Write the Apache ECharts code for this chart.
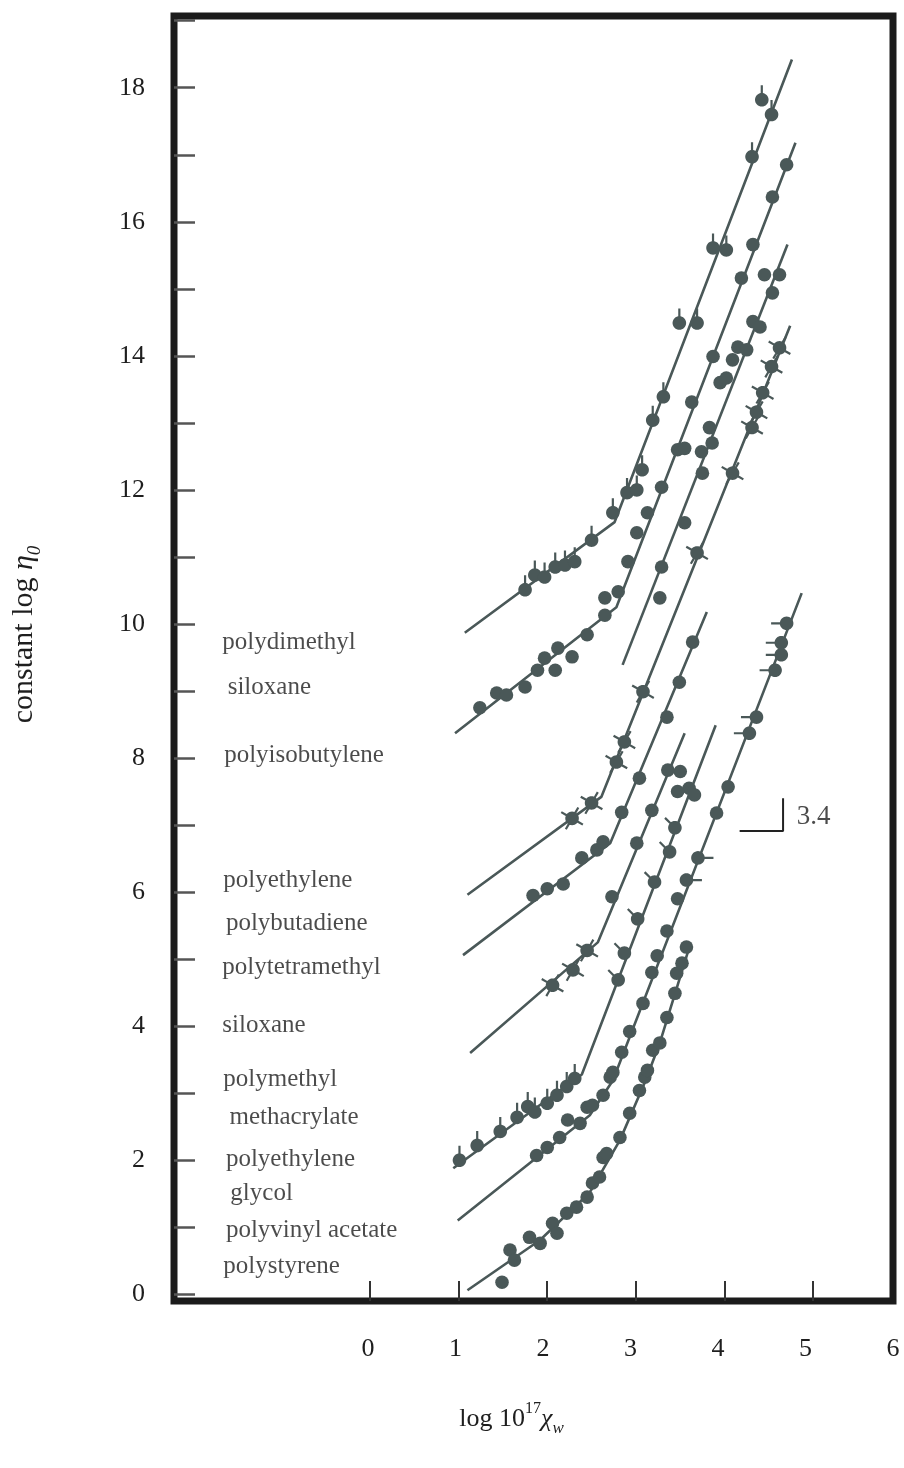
<!DOCTYPE html>
<html><head><meta charset="utf-8">
<script src="https://cdn.jsdelivr.net/npm/echarts@6/dist/echarts.min.js"></script>
<style>html,body{margin:0;padding:0;background:#fff}#c{width:904px;height:1468px}</style>
</head><body><div id="c"></div>
<script>
// ---------- axis ticks / labels ----------
const xTickValues = [0, 1, 2, 3, 4, 5];
const xLabelValues = [0, 1, 2, 3, 4, 5, 6];
const xTickLabels = ['0', '1', '2', '3', '4', '5', '6'];
const yTickValues = [0,1,2,3,4,5,6,7,8,9,10,11,12,13,14,15,16,17,18,19];
const yLabelValues = [0, 2, 4, 6, 8, 10, 12, 14, 16, 18];

// ---------- polymer names written in the plot ----------
const labelTexts = ['polydimethyl','siloxane','polyisobutylene','polyethylene','polybutadiene','polytetramethyl','siloxane','polymethyl','methacrylate','polyethylene','glycol','polyvinyl acetate','polystyrene'];
const labelX = [-1.67,-1.61,-1.65,-1.66,-1.63,-1.67,-1.67,-1.66,-1.59,-1.63,-1.58,-1.63,-1.66];
const labelY = [9.72,9.06,8.04,6.18,5.54,4.87,4.01,3.21,2.64,2.01,1.51,0.96,0.42];

// ---------- fitted lines ----------
const pdmsLine  = [[1.07,9.87],[2.76,11.52],[4.76,18.42]];
const pibLine   = [[0.96,8.37],[2.78,10.25],[4.80,17.18]];
const pvacLine  = [[2.85,9.39],[4.71,15.66]];
const peLine    = [[1.10,5.96],[2.61,7.42],[4.74,14.45]];
const pbLine    = [[1.05,5.06],[2.71,6.73],[3.80,10.18]];
const ptmpsLine = [[1.13,3.60],[2.57,5.25],[3.55,8.37]];
const pmmaLine  = [[0.94,1.88],[2.39,3.28],[3.90,8.49]];
const pegLine   = [[0.99,1.10],[2.48,2.67],[2.74,3.19],[4.87,10.46]];
const psLine    = [[1.10,0.06],[1.92,0.81],[2.48,1.52],[2.82,2.30],[3.10,3.16],[3.27,3.75],[3.61,5.21]];

// ---------- data points ----------
const pdmsPts = [[1.75,10.51],[1.86,10.73],[1.97,10.70],[2.09,10.85],[2.20,10.88],[2.31,10.93],[2.50,11.25],[2.74,11.66],[2.90,11.96],[3.01,12.00],[3.07,12.30],[3.19,13.04],[3.31,13.39],[3.49,14.49],[3.69,14.49],[3.87,15.61],[4.02,15.58],[4.31,16.97],[4.42,17.82],[4.53,17.60]];
const pibPts = [[1.24,8.75],[1.43,8.97],[1.54,8.94],[1.75,9.06],[1.89,9.31],[1.97,9.49],[2.09,9.31],[2.12,9.64],[2.28,9.51],[2.45,9.84],[2.65,10.13],[2.65,10.39],[2.80,10.48],[2.91,10.93],[3.01,11.36],[3.13,11.66],[3.29,12.04],[3.47,12.60],[3.55,12.62],[3.63,13.31],[3.87,13.99],[4.19,15.16],[4.32,15.66],[4.54,16.37],[4.70,16.85]];
const pvacPts = [[3.27,10.39],[3.29,10.85],[3.55,11.51],[3.75,12.25],[3.74,12.57],[3.86,12.70],[3.83,12.93],[3.95,13.60],[4.02,13.67],[4.09,13.94],[4.15,14.13],[4.25,14.09],[4.32,14.51],[4.40,14.43],[4.54,14.94],[4.45,15.21],[4.62,15.21]];
const pePts = [[2.28,7.10],[2.50,7.33],[2.78,7.94],[2.87,8.24],[3.08,8.99],[3.69,11.06],[4.09,12.25],[4.31,12.93],[4.36,13.16],[4.43,13.45],[4.53,13.84],[4.62,14.12]];
const pbPts = [[1.84,5.95],[2.00,6.05],[2.18,6.12],[2.39,6.51],[2.56,6.63],[2.63,6.75],[2.84,7.19],[3.04,7.70],[3.35,8.61],[3.49,9.13],[3.64,9.73]];
const ptmpsCrossPts = [[2.06,4.61],[2.29,4.84],[2.45,5.13]];
const ptmpsPts = [[2.73,5.93],[3.01,6.73],[3.18,7.22],[3.36,7.82],[3.50,7.80],[3.60,7.55],[3.47,7.50]];
const pmmaLowPts = [[1.01,2.00],[1.21,2.22],[1.47,2.43],[1.66,2.64],[1.78,2.80],[1.86,2.72],[2.00,2.85],[2.11,2.97],[2.22,3.10],[2.31,3.22]];
const pmmaHighPts = [[2.80,4.69],[2.87,5.09],[3.02,5.60],[3.21,6.15],[3.38,6.60],[3.44,6.96],[3.66,7.45]];
const pegPts = [[1.88,2.07],[2.00,2.19],[2.14,2.34],[2.23,2.60],[2.37,2.55],[2.45,2.79],[2.51,2.82],[2.63,2.97],[2.71,3.24],[2.74,3.31],[2.84,3.61],[2.93,3.92],[3.08,4.34],[3.18,4.80],[3.24,5.05],[3.35,5.42],[3.47,5.90],[3.91,7.18],[4.04,7.57]];
const pegPipRightPts = [[3.57,6.18],[3.70,6.51]];
const pegPipLeftPts = [[4.28,8.37],[4.36,8.61],[4.57,9.31],[4.64,9.54],[4.64,9.72],[4.70,10.01]];
const psPts = [[1.49,0.18],[1.58,0.66],[1.63,0.51],[1.80,0.85],[1.92,0.76],[2.06,1.06],[2.11,0.91],[2.22,1.21],[2.33,1.30],[2.45,1.45],[2.51,1.66],[2.59,1.75],[2.63,2.04],[2.67,2.10],[2.82,2.34],[2.93,2.70],[3.04,3.04],[3.10,3.24],[3.13,3.34],[3.19,3.64],[3.27,3.75],[3.35,4.13],[3.44,4.49],[3.46,4.79],[3.52,4.94],[3.57,5.18]];

// ---------- slope key ----------
const slopeKey = [[4.17,6.91],[4.66,6.91],[4.66,7.40]];
const slopeText = '3.4';
const slopeTextPos = [4.81,7.12];

// ---------- styling ----------
const FONT = 'Liberation Serif';
const INK = '#4a5858';
const TXT = '#1e1e1e';
const R = 6.8, W = 1.1;
function circ(){
  const n = 32; const p = [];
  for (let k = 0; k < n; k++){ const t = 2*Math.PI*k/n; p.push((R*Math.cos(t)).toFixed(2)+','+(R*Math.sin(t)).toFixed(2)); }
  return 'M' + p.join('L') + 'Z';
}
function stickSym(angles, L){
  let d = circ(); let minX=-R,maxX=R,minY=-R,maxY=R;
  for (const a of angles){
    const ux=Math.cos(a*Math.PI/180), uy=Math.sin(a*Math.PI/180);
    const nx=-uy, ny=ux, r0=R-0.5;
    const pts=[[r0*ux-W*nx, r0*uy-W*ny],[L*ux-W*nx, L*uy-W*ny],[L*ux+W*nx, L*uy+W*ny],[r0*ux+W*nx, r0*uy+W*ny]];
    d += 'M' + pts.map(p=>p[0].toFixed(2)+','+p[1].toFixed(2)).join('L') + 'Z';
    for (const p of pts){ minX=Math.min(minX,p[0]); maxX=Math.max(maxX,p[0]); minY=Math.min(minY,p[1]); maxY=Math.max(maxY,p[1]); }
  }
  return {symbol:'path://'+d, symbolSize:[maxX-minX, maxY-minY], symbolOffset:[(minX+maxX)/2, (minY+maxY)/2]};
}
const SYM = {
  dot: {symbol:'circle', symbolSize:2*R, symbolOffset:[0,0]},
  pipUp: stickSym([-90], 14.5),
  pipLeft: stickSym([180], 15.5),
  pipRight: stickSym([0], 15.5),
  pipDiag: stickSym([-135], 14),
  cross: stickSym([-60, 30, 120, 210], 12.5)
};
function lineS(name, data){
  return {name, type:'line', data, symbol:'none', lineStyle:{color:INK, width:2.6}, z:2, silent:true};
}
function ptS(name, data, kind){
  const s = SYM[kind];
  return {name, type:'scatter', data, symbol:s.symbol, symbolSize:s.symbolSize, symbolOffset:s.symbolOffset,
    symbolKeepAspect:false, itemStyle:{color:INK, opacity:1}, z:3, silent:true};
}

const series = [
  lineS('polydimethyl siloxane', pdmsLine), ptS('polydimethyl siloxane pts', pdmsPts, 'pipUp'),
  lineS('polyisobutylene', pibLine), ptS('polyisobutylene pts', pibPts, 'dot'),
  lineS('polyvinyl acetate', pvacLine), ptS('polyvinyl acetate pts', pvacPts, 'dot'),
  lineS('polyethylene', peLine), ptS('polyethylene pts', pePts, 'cross'),
  lineS('polybutadiene', pbLine), ptS('polybutadiene pts', pbPts, 'dot'),
  lineS('polytetramethyl siloxane', ptmpsLine), ptS('ptms cross', ptmpsCrossPts, 'cross'), ptS('ptms pts', ptmpsPts, 'dot'),
  lineS('polymethyl methacrylate', pmmaLine), ptS('pmma low', pmmaLowPts, 'pipUp'), ptS('pmma high', pmmaHighPts, 'pipDiag'),
  lineS('polyethylene glycol', pegLine), ptS('peg pts', pegPts, 'dot'), ptS('peg right', pegPipRightPts, 'pipRight'), ptS('peg left', pegPipLeftPts, 'pipLeft'),
  lineS('polystyrene', psLine), ptS('polystyrene pts', psPts, 'dot'),
  {name:'slope key', type:'line', data:slopeKey, symbol:'none', lineStyle:{color:'#222', width:2}, z:2, silent:true},
  {name:'slope text', type:'scatter', data:[{value:slopeTextPos, name:slopeText}], symbolSize:1,
    itemStyle:{color:'rgba(0,0,0,0)'}, silent:true,
    label:{show:true, position:'right', distance:0, formatter:'{b}', fontFamily:FONT, fontSize:27, color:TXT}},
  {name:'polymer names', type:'scatter', data:labelTexts.map((t,i)=>({value:[labelX[i],labelY[i]], name:t})), symbolSize:1,
    itemStyle:{color:'rgba(0,0,0,0)'}, silent:true,
    label:{show:true, position:'right', distance:0, formatter:'{b}', fontFamily:FONT, fontSize:25, color:TXT}}
];

const chart = echarts.init(document.getElementById('c'), null, {renderer:'canvas'});
chart.setOption({
  animation:false,
  backgroundColor:'#fff',
  grid:{left:174, right:11, top:16, bottom:167, show:true, borderWidth:7, borderColor:'#1b1b1b', backgroundColor:'rgba(0,0,0,0)'},
  xAxis:[
    {type:'value', min:-2.21, max:5.9, position:'bottom',
     axisLine:{show:false, onZero:false}, splitLine:{show:false},
     axisTick:{show:true, inside:true, length:20, customValues:xTickValues, lineStyle:{color:'#333', width:2}},
     axisLabel:{show:false},
     name:'{n|log 10}{p|17}{i|χ}{s|w}', nameLocation:'middle', nameGap:100,
     nameTextStyle:{fontFamily:FONT, fontSize:26, color:TXT, padding:[0,44,0,0],
       rich:{n:{fontFamily:FONT, fontSize:26, color:TXT, lineHeight:36},
             p:{fontFamily:FONT, fontSize:16, color:TXT, lineHeight:18, verticalAlign:'top'},
             i:{fontFamily:FONT, fontSize:26, fontStyle:'italic', color:TXT, lineHeight:36},
             s:{fontFamily:FONT, fontSize:17, fontStyle:'italic', color:TXT, lineHeight:22, verticalAlign:'bottom'}}}},
    {type:'value', min:-2.217, max:6, position:'bottom',
     axisLine:{show:false, onZero:false}, splitLine:{show:false}, axisTick:{show:false},
     axisLabel:{customValues:xLabelValues, margin:35, fontFamily:FONT, fontSize:26, color:TXT,
       formatter:v=>xTickLabels[xLabelValues.indexOf(Math.round(v))]}}
  ],
  yAxis:{type:'value', min:-0.1, max:19.07, position:'left',
    axisLine:{show:false, onZero:false}, splitLine:{show:false},
    axisTick:{show:true, inside:true, length:21, customValues:yTickValues, lineStyle:{color:'#555', width:2.5}},
    axisLabel:{customValues:yLabelValues, margin:29, fontFamily:FONT, fontSize:26, color:TXT},
    name:'{n|constant log }{i|η}{s|0}', nameLocation:'middle', nameGap:130, nameRotate:90,
    nameTextStyle:{fontFamily:FONT, fontSize:30, color:TXT, padding:[0,0,0,48],
      rich:{n:{fontFamily:FONT, fontSize:30, color:TXT, lineHeight:40},
            i:{fontFamily:FONT, fontSize:30, fontStyle:'italic', color:TXT, lineHeight:40},
            s:{fontFamily:FONT, fontSize:19, fontStyle:'italic', color:TXT, lineHeight:24, verticalAlign:'bottom'}}}},
  series
});
</script></body></html>
